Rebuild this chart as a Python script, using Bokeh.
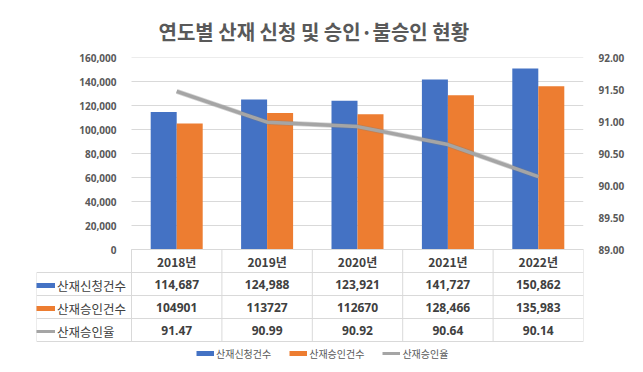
from bokeh.plotting import figure
from bokeh.models import (Range1d, LinearAxis, FixedTicker, NumeralTickFormatter,
                          ColumnDataSource, Legend, LegendItem, Title)
from bokeh.core.properties import value
from bokeh.transform import dodge
from bokeh.embed import file_html
from bokeh.resources import INLINE

# ---------------- data ----------------
years = ["2018년", "2019년", "2020년", "2021년", "2022년"]
applied = [114687, 124988, 123921, 141727, 150862]
approved = [104901, 113727, 112670, 128466, 135983]
rate = [91.47, 90.99, 90.92, 90.64, 90.14]

applied_text = ["114,687", "124,988", "123,921", "141,727", "150,862"]
approved_text = ["104901", "113727", "112670", "128,466", "135,983"]
rate_text = ["91.47", "90.99", "90.92", "90.64", "90.14"]

series_names = ["산재신청건수", "산재승인건수", "산재승인율"]
left_ticks = [0, 20000, 40000, 60000, 80000, 100000, 120000, 140000, 160000]
right_ticks = [89.0, 89.5, 90.0, 90.5, 91.0, 91.5, 92.0]
title_text = "연도별 산재 신청 및 승인·불승인 현황"

BLUE = "#4472C4"
ORANGE = "#ED7D31"
GRAY = "#A5A5A5"
GRID = "#D9D9D9"
TXT = "#404040"
AX = "#595959"
KFONT = "Noto Sans CJK KR"

# ---------------- layout constants (pixels) ----------------
W, H = 643, 372
n = len(years)
chart_h = 192          # plot area height
row_h = 23             # table row height
n_rows = 4             # header + 3 data rows
foot = 31              # space under the table (bottom legend)
col_px = 452 / n       # category / table column width
lab_px = 95            # left label column width
L = lab_px / col_px
below = row_h * n_rows + foot
xc = [i + 0.5 for i in range(n)]
bw = 26 / col_px

p = figure(width=W, height=H, output_backend="svg", toolbar_location=None,
           x_range=Range1d(-L, n),
           y_range=Range1d(-left_ticks[-1] * below / chart_h, left_ticks[-1]),
           min_border_left=36, min_border_right=60, min_border_top=57, min_border_bottom=0,
           x_axis_location=None, y_axis_location=None)
p.outline_line_color = None
p.xgrid.visible = False
p.ygrid.visible = False
rspan = right_ticks[-1] - right_ticks[0]
p.extra_y_ranges = {
    "rate": Range1d(right_ticks[0] - rspan * below / chart_h, right_ticks[-1]),
    "table": Range1d(-foot / row_h, n_rows + chart_h / row_h),
}

# gridlines at the value-axis ticks (plot area only)
p.segment(x0=0, x1=n, y0=left_ticks, y1=left_ticks, line_color=GRID, line_width=1)

src = ColumnDataSource(dict(x=xc, applied=applied, approved=approved, rate=rate))
p.vbar(x=dodge("x", -bw / 2, range=p.x_range), top="applied", width=bw, bottom=0,
       source=src, fill_color=BLUE, line_color=None)
p.vbar(x=dodge("x", bw / 2, range=p.x_range), top="approved", width=bw, bottom=0,
       source=src, fill_color=ORANGE, line_color=None)
p.line(x="x", y="rate", source=src, y_range_name="rate", line_color="#7F7F7F",
       line_alpha=0.35, line_width=5, line_join="round")
p.line(x="x", y="rate", source=src, y_range_name="rate", line_color=GRAY,
       line_width=3.5, line_join="round")

# axes
yl = LinearAxis(ticker=FixedTicker(ticks=left_ticks), formatter=NumeralTickFormatter(format="0,0"))
yr = LinearAxis(y_range_name="rate", ticker=FixedTicker(ticks=right_ticks),
                formatter=NumeralTickFormatter(format="0.00"))
for ax in (yl, yr):
    ax.axis_line_color = None
    ax.major_tick_line_color = None
    ax.minor_tick_line_color = None
    ax.major_label_text_font = "Open Sans"
    ax.major_label_text_font_style = "bold"
    ax.major_label_text_font_size = "10px"
    ax.major_label_text_color = AX
yl.major_label_standoff = -(lab_px - 9)
yr.major_label_standoff = 9
p.add_layout(yl, "left")
p.add_layout(yr, "right")

# ---------------- data table ----------------
hx0 = [-L] * 4 + [0]
hx1 = [n] * 5
hy = [0, 1, 2, 3, 4]
p.segment(x0=hx0, x1=hx1, y0=hy, y1=hy, y_range_name="table", line_color=GRID)
vx = [-L] + list(range(n + 1))
vy1 = [3] + [4] * (n + 1)
p.segment(x0=vx, x1=vx, y0=[0] * len(vx), y1=vy1, y_range_name="table", line_color=GRID)

p.text(x=xc, y=[3.5] * n, text=years, y_range_name="table", text_align="center",
       text_baseline="middle", text_font=value(KFONT), text_font_style="bold",
       text_font_size="12px", text_color=TXT)
tx, ty, tt = [], [], []
for row_y, texts in ((2.5, applied_text), (1.5, approved_text), (0.5, rate_text)):
    for i, t in enumerate(texts):
        tx.append(xc[i]); ty.append(row_y); tt.append(t)
p.text(x=tx, y=ty, text=tt, y_range_name="table", text_align="center",
       text_baseline="middle", text_font=value("Open Sans"), text_font_style="bold",
       text_font_size="12px", text_color=TXT)

# legend keys (renderers with no visible points)
nan = float("nan")
r1 = p.line(x=[nan], y=[nan], line_color=BLUE, line_width=5)
r2 = p.line(x=[nan], y=[nan], line_color=ORANGE, line_width=5)
r3 = p.line(x=[nan], y=[nan], line_color=GRAY, line_width=3)
rs = [r1, r2, r3]

leg_tab = Legend(items=[LegendItem(label=nm, renderers=[r]) for nm, r in zip(series_names, rs)],
                 location=(0, foot), padding=2, spacing=3,
                 glyph_width=19, glyph_height=20, label_height=20, label_standoff=2,
                 label_text_font=KFONT, label_text_font_size="12.5px", label_text_color=TXT,
                 background_fill_alpha=0, border_line_color=None)
p.add_layout(leg_tab)

leg_bot = Legend(items=[LegendItem(label=nm, renderers=[r]) for nm, r in zip(series_names, rs)],
                 orientation="horizontal", location=(160, 9), padding=0, spacing=18,
                 glyph_width=18, glyph_height=20, label_height=20, label_standoff=2,
                 label_text_font=KFONT, label_text_font_size="10px", label_text_color=AX,
                 background_fill_alpha=0, border_line_color=None)
p.add_layout(leg_bot)

p.add_layout(Title(text=title_text, align="left", offset=122, standoff=24,
                   text_font=KFONT, text_font_style="bold", text_font_size="20px",
                   text_color=AX), "above")

open("out.html", "w").write(file_html(p, INLINE))
